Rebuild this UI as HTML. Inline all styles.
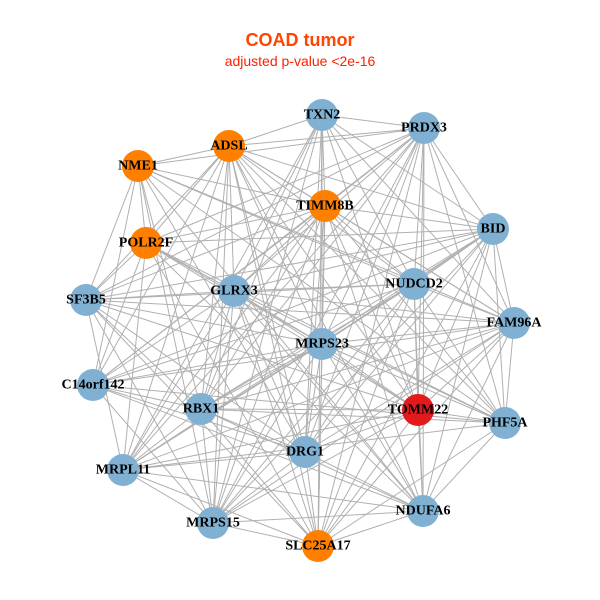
<!DOCTYPE html>
<html><head><meta charset="utf-8"><style>
html,body{margin:0;padding:0;background:#fff;}
svg{display:block;}
text.l{font-family:"Liberation Serif",serif;font-weight:bold;font-size:14px;fill:#000;text-anchor:middle;dominant-baseline:central;}
</style></head><body>
<svg id="s" width="600" height="600" viewBox="0 0 600 600">
<rect width="600" height="600" fill="#fff"/>
<text x="300" y="46" font-family="Liberation Sans,sans-serif" font-weight="bold" font-size="18" fill="#ff4500" text-anchor="middle">COAD tumor</text>
<text x="300" y="66" font-family="Liberation Sans,sans-serif" font-size="14" fill="#ff2000" text-anchor="middle">adjusted p-value &lt;2e-16</text>
<g id="edges" stroke="#b0b0b0" stroke-width="1"></g>
<g id="nodes"></g>
<g>
<text class="l" x="322" y="115">TXN2</text>
<text class="l" x="229" y="146">ADSL</text>
<text class="l" x="424" y="128">PRDX3</text>
<text class="l" x="138" y="166">NME1</text>
<text class="l" x="325" y="206">TIMM8B</text>
<text class="l" x="493" y="229">BID</text>
<text class="l" x="146" y="243">POLR2F</text>
<text class="l" x="414" y="284">NUDCD2</text>
<text class="l" x="234" y="291">GLRX3</text>
<text class="l" x="86" y="300">SF3B5</text>
<text class="l" x="514" y="323">FAM96A</text>
<text class="l" x="322" y="344">MRPS23</text>
<text class="l" x="93" y="385">C14orf142</text>
<text class="l" x="201" y="409">RBX1</text>
<text class="l" x="418" y="410">TOMM22</text>
<text class="l" x="505" y="423">PHF5A</text>
<text class="l" x="305" y="452">DRG1</text>
<text class="l" x="123" y="470">MRPL11</text>
<text class="l" x="423" y="511">NDUFA6</text>
<text class="l" x="213" y="523">MRPS15</text>
<text class="l" x="318" y="546">SLC25A17</text>
</g>
</svg>
<script>
var N=[[322,115,0],[229,146,1],[424,128,0],[138,166,1],[325,206,1],[493,229,0],[146,243,1],[414,284,0],[234,291,0],[86,300,0],[514,323,0],[322,344,0],[93,385,0],[201,409,0],[418,410,2],[505,423,0],[305,452,0],[123,470,0],[423,511,0],[213,523,0],[318,546,1]];
var C=["#80b1d3","#ff7f00","#e31a1c"];
var ns="http://www.w3.org/2000/svg",E=document.getElementById("edges"),G=document.getElementById("nodes");
for(var i=0;i<N.length;i++)for(var j=i+1;j<N.length;j++){
 if((i*7+j*3)%9==0)continue;
 var l=document.createElementNS(ns,"line");
 l.setAttribute("x1",N[i][0]);l.setAttribute("y1",N[i][1]);l.setAttribute("x2",N[j][0]);l.setAttribute("y2",N[j][1]);E.appendChild(l);}
N.forEach(function(n){var c=document.createElementNS(ns,"circle");c.setAttribute("cx",n[0]);c.setAttribute("cy",n[1]);c.setAttribute("r",16);c.setAttribute("fill",C[n[2]]);G.appendChild(c);});
</script>
</body></html>
